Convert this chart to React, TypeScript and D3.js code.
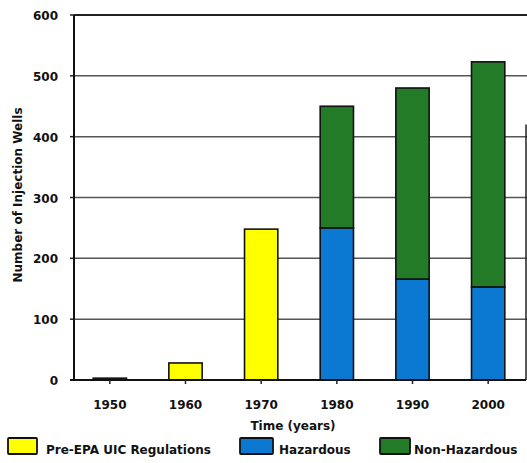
import React from "react";
import * as d3 from "d3";

const years = ["1950", "1960", "1970", "1980", "1990", "2000"];
const preEpa = [3, 28, 248, 0, 0, 0];
const hazardous = [0, 0, 0, 250, 166, 153];
const nonHazardous = [0, 0, 0, 200, 314, 370];
const yTicks = [0, 100, 200, 300, 400, 500, 600];

const YELLOW = "#FFFF00";
const BLUE = "#0B78D2";
const GREEN = "#237A27";
const FONT = "'DejaVu Sans', 'Liberation Sans', Arial, sans-serif";

export default function App() {
  const W = 527, H = 463;
  const left = 74, right = 526, top = 15, bottom = 380;
  const x = d3.scaleBand<string>().domain(years).range([72, 526]).paddingInner(0.56).paddingOuter(0.28);
  const y = d3.scaleLinear().domain([0, 600]).range([bottom, top]);
  const bw = x.bandwidth();

  const bars: JSX.Element[] = [];
  years.forEach((yr, i) => {
    const x0 = x(yr)!;
    if (preEpa[i] > 0) {
      bars.push(<rect key={"p" + i} x={x0} y={y(preEpa[i])} width={bw} height={Math.max(y(0) - y(preEpa[i]), 1)} fill={i === 0 ? "#8a8a3a" : YELLOW} stroke="#111" strokeWidth={1.6} />);
    }
    if (hazardous[i] > 0) {
      bars.push(<rect key={"h" + i} x={x0} y={y(hazardous[i])} width={bw} height={y(0) - y(hazardous[i])} fill={BLUE} stroke="#111" strokeWidth={1.6} />);
    }
    if (nonHazardous[i] > 0) {
      const t = hazardous[i] + nonHazardous[i];
      bars.push(<rect key={"n" + i} x={x0} y={y(t)} width={bw} height={y(hazardous[i]) - y(t)} fill={GREEN} stroke="#111" strokeWidth={1.6} />);
    }
  });

  const legend = [
    { label: "Pre-EPA UIC Regulations", color: YELLOW, bx: 8, tx: 46, w: 29 },
    { label: "Hazardous", color: BLUE, bx: 240, tx: 279, w: 33 },
    { label: "Non-Hazardous", color: GREEN, bx: 380, tx: 414, w: 30 },
  ];

  return (
    <svg width={W} height={H} style={{ position: "absolute", left: 0, top: 0, background: "#fff" }} fontFamily={FONT} fontWeight="bold">
      {yTicks.map((t) => (
        <g key={t}>
          {t > 0 && <line x1={left} x2={527} y1={y(t)} y2={y(t)} stroke={t === 600 ? "#222" : "#555"} strokeWidth={t === 600 ? 2 : 1.5} />}
          <line x1={left - 4} x2={left} y1={y(t)} y2={y(t)} stroke="#222" strokeWidth={1.5} />
          <text x={58} y={y(t) + 5} textAnchor="end" fontSize={12} fill="#111">{t}</text>
        </g>
      ))}
      <line x1={right} x2={right} y1={y(420)} y2={bottom} stroke="#222" strokeWidth={1.5} />
      {bars}
      <line x1={left} x2={left} y1={top} y2={bottom} stroke="#111" strokeWidth={2} />
      <line x1={left - 4} x2={right} y1={bottom} y2={bottom} stroke="#111" strokeWidth={2} />
      {years.map((yr) => (
        <g key={yr}>
          <line x1={x(yr)! + bw / 2} x2={x(yr)! + bw / 2} y1={bottom} y2={bottom + 4} stroke="#222" strokeWidth={1.5} />
          <text x={x(yr)! + bw / 2} y={409} textAnchor="middle" fontSize={12} fill="#111">{yr}</text>
        </g>
      ))}
      <text x={293} y={430} textAnchor="middle" fontSize={12} fill="#111">Time (years)</text>
      <text transform={`translate(22,${195}) rotate(-90)`} textAnchor="middle" fontSize={12} fill="#111">Number of Injection Wells</text>
      {legend.map((l) => (
        <g key={l.label}>
          <rect x={l.bx} y={438} width={l.w} height={16} fill={l.color} stroke="#111" strokeWidth={1.8} rx={1} />
          <text x={l.tx} y={454} fontSize={12} fill="#111">{l.label}</text>
        </g>
      ))}
    </svg>
  );
}
